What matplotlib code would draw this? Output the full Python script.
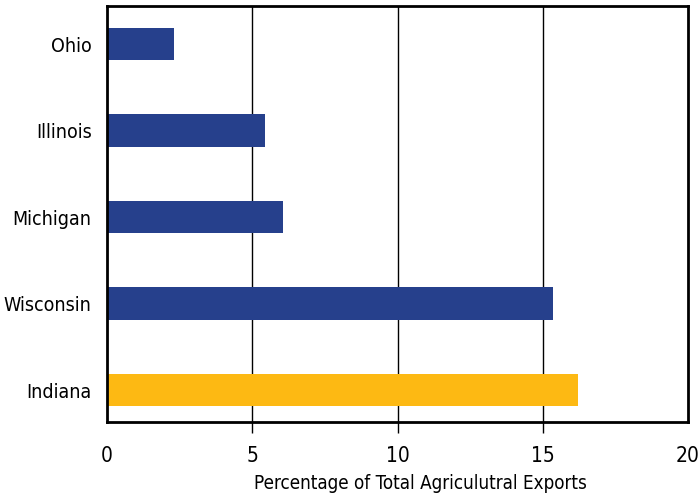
import numpy as np
import matplotlib.pyplot as plt

states = ["Indiana", "Wisconsin", "Michigan", "Illinois", "Ohio"]
values = [16.2, 15.35, 6.05, 5.45, 2.3]
colors = ["#FDB913", "#26408C", "#26408C", "#26408C", "#26408C"]
xticks = [0, 5, 10, 15, 20]

plt.rcParams['font.family'] = ['DejaVu Sans']
plt.rcParams['font.stretch'] = 'condensed'

fig = plt.figure(figsize=(7, 4.96), dpi=100)
ax = fig.add_axes([107/700, 1 - 422/496, 581/700, 416/496])

y = np.arange(len(states))
ax.barh(y, values, height=0.38, color=colors, zorder=3)

ax.set_xlim(0, 20)
ax.set_ylim(-0.37, 4.44)
ax.set_xticks(xticks)
ax.set_yticks(y)
ax.set_yticklabels(states)
for xv in xticks[1:-1]:
    ax.axvline(xv, color="black", lw=1, zorder=1)

for s in ax.spines.values():
    s.set_linewidth(2)
    s.set_zorder(4)

ax.tick_params(axis="y", length=0, pad=11, labelsize=14)
ax.tick_params(axis="x", length=8, width=1, pad=9, labelsize=15)
# no tick marks showing at the two ends
ticklines = ax.xaxis.get_ticklines()
ticklines[0].set_visible(False)
ticklines[-2].set_visible(False)
ax.set_xlabel("Percentage of Total Agriculutral Exports", fontsize=13.5)
ax.xaxis.set_label_coords(0.54, -0.125)

fig.savefig("out.png", dpi=100)
